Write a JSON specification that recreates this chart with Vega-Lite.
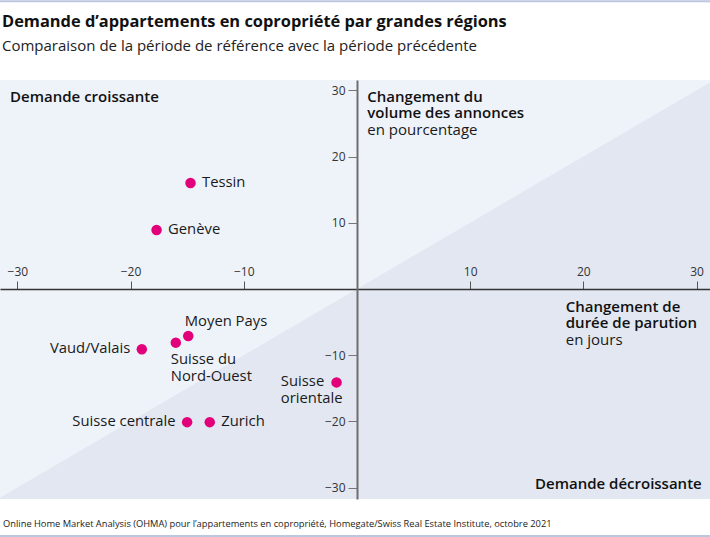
{
  "$schema": "https://vega.github.io/schema/vega-lite/v6.json",
  "width": 710,
  "height": 419,
  "autosize": "none",
  "padding": {"left": 0, "top": 80, "right": 0, "bottom": 38},
  "background": "white",
  "config": {
    "font": "Open Sans",
    "view": {"fill": "#eef2f9", "stroke": null}
  },
  "title": {
    "text": "Demande d’appartements en copropriété par grandes régions",
    "subtitle": "Comparaison de la période de référence avec la période précédente",
    "anchor": "start",
    "frame": "group",
    "dx": 2,
    "offset": -53.8,
    "font": "Open Sans",
    "fontSize": 16.4,
    "fontWeight": "bold",
    "color": "#111111",
    "subtitleFont": "Open Sans",
    "subtitleFontSize": 15,
    "subtitleColor": "#222222",
    "subtitlePadding": 9
  },
  "datasets": {
    "regions": [
      {"region": "Tessin", "label": "Tessin", "x": -14.7, "y": 16.0},
      {"region": "Genève", "label": "Genève", "x": -17.7, "y": 8.9},
      {"region": "Vaud/Valais", "label": "Vaud/Valais", "x": -19.0, "y": -9.1},
      {"region": "Suisse du Nord-Ouest", "label": "Suisse du\nNord-Ouest", "x": -16.0, "y": -8.1},
      {"region": "Moyen Pays", "label": "Moyen Pays", "x": -14.9, "y": -7.1},
      {"region": "Suisse orientale", "label": "Suisse\norientale", "x": -1.8, "y": -14.1},
      {"region": "Suisse centrale", "label": "Suisse centrale", "x": -15.0, "y": -20.1},
      {"region": "Zurich", "label": "Zurich", "x": -13.0, "y": -20.1}
    ],
    "diagonal": [
      {"x": -32, "y": -32},
      {"x": 32, "y": 32}
    ],
    "notesBold": [
      {"x": -30.64, "y": 29.03, "text": "Demande croissante"},
      {"x": 0.92, "y": 29.03, "text": "Changement du\nvolume des annonces"},
      {"x": 18.45, "y": -2.67, "text": "Changement de\ndurée de parution"}
    ],
    "notesRegular": [
      {"x": 0.92, "y": 23.95, "text": "en pourcentage"},
      {"x": 18.45, "y": -7.75, "text": "en jours"}
    ],
    "notesRight": [
      {"x": 30.46, "y": -29.48, "text": "Demande décroissante"}
    ],
    "footer": [
      {"x": -31.26, "y": -35.47, "text": "Online Home Market Analysis (OHMA) pour l’appartements en copropriété, Homegate/Swiss Real Estate Institute, octobre 2021"}
    ],
    "borders": [
      {"x": -31.53, "x2": 31.19, "y": 43.45},
      {"x": -31.53, "x2": 31.19, "y": -37.3}
    ]
  },
  "encoding": {
    "x": {
      "field": "x",
      "type": "quantitative",
      "scale": {"domain": [-31.53, 31.19], "nice": false, "zero": false},
      "axis": {
        "orient": "top",
        "offset": -209,
        "values": [-30, -20, -10, 10, 20, 30],
        "grid": false,
        "title": null,
        "domainColor": "#333333",
        "domainWidth": 1.3,
        "tickColor": "#555555",
        "tickSize": 8,
        "tickWidth": 1,
        "labelFont": "Open Sans",
        "labelFontSize": 12,
        "labelColor": "#333333",
        "labelPadding": 3,
        "labelFlush": false,
        "zindex": 1
      }
    },
    "y": {
      "field": "y",
      "type": "quantitative",
      "scale": {"domain": [-31.7, 31.55], "nice": false, "zero": false},
      "axis": {
        "orient": "left",
        "offset": -357,
        "values": [-30, -20, -10, 10, 20, 30],
        "grid": false,
        "title": null,
        "domainColor": "#6e6e6e",
        "domainWidth": 2,
        "tickColor": "#777777",
        "tickSize": 9,
        "tickWidth": 1,
        "labelFont": "Open Sans",
        "labelFontSize": 12,
        "labelColor": "#333333",
        "labelPadding": 3,
        "labelFlush": false,
        "zindex": 1
      }
    }
  },
  "layer": [
    {
      "data": {"name": "diagonal"},
      "mark": {"type": "area", "color": "#e2e7f2", "clip": true},
      "encoding": {"y2": {"datum": -40}}
    },
    {
      "data": {"name": "borders"},
      "mark": {"type": "rule", "color": "#bcc6de", "strokeWidth": 2, "clip": false},
      "encoding": {
        "x2": {"field": "x2"}
      }
    },
    {
      "data": {"name": "regions"},
      "mark": {"type": "circle", "size": 110, "color": "#e2007a", "opacity": 1}
    },
    {
      "data": {"name": "regions"},
      "transform": [{"filter": {"field": "region", "oneOf": ["Tessin", "Genève", "Zurich"]}}],
      "mark": {"type": "text", "align": "left", "baseline": "middle", "dx": 11.5, "fontSize": 14.8, "color": "#1a1a1a"},
      "encoding": {"text": {"field": "label"}}
    },
    {
      "data": {"name": "regions"},
      "transform": [{"filter": {"field": "region", "oneOf": ["Vaud/Valais", "Suisse centrale"]}}],
      "mark": {"type": "text", "align": "right", "baseline": "middle", "dx": -11.5, "fontSize": 14.8, "color": "#1a1a1a"},
      "encoding": {"text": {"field": "label"}}
    },
    {
      "data": {"name": "regions"},
      "transform": [{"filter": {"field": "region", "equal": "Moyen Pays"}}],
      "mark": {"type": "text", "align": "left", "baseline": "middle", "dx": -3.5, "dy": -14.5, "fontSize": 14.8, "color": "#1a1a1a"},
      "encoding": {"text": {"field": "label"}}
    },
    {
      "data": {"name": "regions"},
      "transform": [{"filter": {"field": "region", "equal": "Suisse du Nord-Ouest"}}],
      "mark": {"type": "text", "align": "left", "baseline": "middle", "dx": -5, "dy": 17.3, "lineBreak": "\n", "lineHeight": 16.7, "fontSize": 14.8, "color": "#1a1a1a"},
      "encoding": {"text": {"field": "label"}}
    },
    {
      "data": {"name": "regions"},
      "transform": [{"filter": {"field": "region", "equal": "Suisse orientale"}}],
      "mark": {"type": "text", "align": "left", "baseline": "middle", "dx": -55.7, "dy": 0, "lineBreak": "\n", "lineHeight": 16.7, "fontSize": 14.8, "color": "#1a1a1a"},
      "encoding": {"text": {"field": "label"}}
    },
    {
      "data": {"name": "notesBold"},
      "mark": {"type": "text", "align": "left", "baseline": "middle", "lineBreak": "\n", "lineHeight": 16.7, "fontSize": 15, "fontWeight": 600, "color": "#111111"},
      "encoding": {"text": {"field": "text"}}
    },
    {
      "data": {"name": "notesRegular"},
      "mark": {"type": "text", "align": "left", "baseline": "middle", "fontSize": 15, "color": "#1a1a1a"},
      "encoding": {"text": {"field": "text"}}
    },
    {
      "data": {"name": "notesRight"},
      "mark": {"type": "text", "align": "right", "baseline": "middle", "fontSize": 15, "fontWeight": 600, "color": "#111111"},
      "encoding": {"text": {"field": "text"}}
    },
    {
      "data": {"name": "footer"},
      "mark": {"type": "text", "align": "left", "baseline": "middle", "fontSize": 9.3, "color": "#222222"},
      "encoding": {"text": {"field": "text"}}
    }
  ]
}
